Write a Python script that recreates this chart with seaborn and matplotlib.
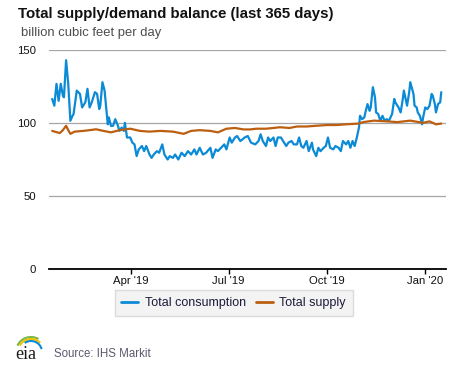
import numpy as np
import pandas as pd
import seaborn as sns
import matplotlib.pyplot as plt
import matplotlib.dates as mdates
from matplotlib.patches import Arc

# Readings taken off the chart: day offset from the first day, value in Bcf/d
START = pd.Timestamp("2019-01-17")

cons_day = [0, 2, 4, 6, 8, 10, 11, 13, 15, 17, 19, 20, 23, 26, 28, 31, 33, 35, 37, 40,
            42, 44, 45, 47, 49, 52, 53, 55, 57, 59, 61, 63, 65, 67, 68, 70, 73, 75, 77, 79,
            81, 84, 86, 88, 91, 93, 95, 98, 100, 103, 105, 108, 110, 113, 115, 118, 121, 124, 127, 130,
            133, 135, 138, 141, 144, 148, 150, 153, 155, 158, 161, 163, 166, 168, 171, 173, 176, 178, 180, 183,
            186, 190, 193, 195, 197, 200, 202, 204, 207, 209, 211, 214, 216, 219, 221, 224, 226, 229, 231, 233,
            235, 238, 240, 243, 244, 247, 249, 251, 254, 256, 258, 260, 263, 265, 268, 270, 272, 275, 277, 279,
            281, 283, 285, 287, 288, 290, 292, 293, 295, 297, 298, 300, 302, 303, 305, 307, 309, 311, 313, 315,
            318, 320, 321, 324, 326, 328, 329, 331, 332, 334, 335, 338, 339, 341, 342, 344, 346, 347, 349, 351,
            353, 355, 356, 358, 359, 361, 363, 364]
cons_val = [116.3, 111.7, 126.6, 115.0, 126.6, 118.6, 117.4, 142.7, 126.6, 101.4, 104.8, 106.0, 122.0, 119.7, 110.5, 114.0, 123.2, 110.5, 114.0, 120.9,
            119.7, 109.4, 111.7, 127.7, 122.0, 99.0, 103.7, 97.9, 98.0, 102.5, 99.0, 94.5, 96.8, 94.5, 100.0, 90.0, 90.0, 86.5, 85.3, 77.3,
            81.9, 84.2, 80.7, 84.2, 78.4, 76.1, 78.4, 80.7, 79.6, 85.3, 78.4, 75.0, 77.3, 76.1, 78.4, 75.0, 79.6, 77.3, 80.7, 78.4,
            81.9, 78.4, 83.0, 78.4, 79.6, 83.0, 76.1, 81.9, 80.7, 83.0, 85.3, 81.9, 90.0, 86.5, 90.0, 91.0, 87.6, 88.7, 90.0, 91.0,
            86.5, 85.3, 87.6, 92.2, 87.6, 84.2, 90.0, 87.6, 90.0, 84.2, 90.0, 90.0, 87.6, 84.2, 86.5, 87.6, 85.3, 85.3, 90.0, 84.2,
            83.0, 87.6, 80.7, 86.5, 81.9, 77.3, 83.0, 80.7, 83.0, 84.2, 90.0, 83.0, 81.9, 84.2, 83.0, 80.7, 87.6, 85.3, 87.6, 83.0,
            87.6, 84.2, 90.0, 96.8, 104.8, 102.5, 103.7, 107.1, 112.8, 108.2, 110.5, 124.3, 117.4, 107.1, 106.0, 101.4, 104.8, 101.4, 102.5, 101.4,
            106.0, 116.3, 114.0, 110.5, 107.1, 116.3, 122.0, 115.0, 111.7, 120.9, 127.7, 119.7, 111.7, 110.5, 107.1, 104.8, 99.0, 103.7, 110.5, 109.4,
            111.7, 119.7, 118.6, 112.8, 107.1, 112.8, 114.0, 120.9]

supply_day = [0, 7, 10, 13, 15, 17, 21, 29, 35, 41, 48, 55, 63, 73, 82, 91, 101, 113, 123, 130,
              138, 148, 155, 163, 171, 179, 185, 191, 200, 207, 213, 222, 229, 238, 247, 257, 266, 275, 287, 291,
              301, 313, 323, 335, 347, 353, 359, 364]
supply_val = [94.5, 93.0, 95.0, 98.0, 95.0, 92.5, 94.0, 94.5, 95.0, 95.6, 94.5, 93.5, 95.0, 96.0, 94.5, 94.0, 94.5, 94.0, 92.5, 94.5,
              95.0, 94.5, 93.5, 96.0, 96.5, 95.5, 95.5, 96.0, 96.0, 96.5, 97.0, 96.5, 97.5, 97.5, 98.0, 98.5, 98.5, 99.0, 99.5, 100.5,
              101.5, 101.0, 100.5, 101.5, 100.0, 101.0, 99.0, 99.5]

series_labels = ["Total consumption", "Total supply"]
series_colors = ["#0b8ad6", "#bb5e10"]
y_ticks = [0, 50, 100, 150]

cons = pd.DataFrame({"date": START + pd.to_timedelta(cons_day, unit="D"), "value": cons_val})
supply = pd.DataFrame({"date": START + pd.to_timedelta(supply_day, unit="D"), "value": supply_val})

sns.set_style("white")
plt.rcParams["font.family"] = ["Liberation Sans", "DejaVu Sans"]

fig = plt.figure(figsize=(4.77, 3.67), dpi=100)
ax = fig.add_axes([0.1027, 0.2657, 0.8323, 0.5994])

sns.lineplot(data=cons, x="date", y="value", ax=ax, color=series_colors[0], lw=1.6, label=series_labels[0])
sns.lineplot(data=supply, x="date", y="value", ax=ax, color=series_colors[1], lw=1.6, label=series_labels[1])

ax.set_xlim(pd.Timestamp("2019-01-14"), pd.Timestamp("2020-01-20 10:00"))
ax.set_ylim(0, 150)
ax.set_yticks(y_ticks)
ax.grid(axis="y", color="#a6a6a6", lw=0.9)
ax.grid(axis="x", visible=False)
for s in ["top", "right", "left"]:
    ax.spines[s].set_visible(False)
ax.spines["bottom"].set_color("black")
ax.spines["bottom"].set_linewidth(1.3)
ax.set_xlabel("")
ax.set_ylabel("")

ax.xaxis.set_major_locator(mdates.MonthLocator(bymonth=[1, 4, 7, 10]))
ax.xaxis.set_major_formatter(mdates.DateFormatter("%b '%y"))
ax.tick_params(axis="x", bottom=True, length=3.5, width=1, color="black", pad=1.5,
               labelsize=8.2, labelcolor="#111111")
ax.tick_params(axis="y", left=False, pad=6, labelsize=8.2, labelcolor="#111111")
# hide any tick that falls before the data
ax.set_xticks([t for t in ax.get_xticks() if t >= mdates.date2num(pd.Timestamp("2019-02-01"))])

leg = ax.legend(loc="center", bbox_to_anchor=(0.490, 0.1744), bbox_transform=fig.transFigure,
                ncol=2, frameon=True, fancybox=False, fontsize=9, handlelength=1.35,
                handletextpad=0.5, columnspacing=0.85, borderpad=0.55)
leg.get_frame().set_facecolor("#f0f0f0")
leg.get_frame().set_edgecolor("#d4d4d4")
leg.get_frame().set_linewidth(1)
for t in leg.get_texts():
    t.set_color("#1c1c3c")
for h in leg.get_lines():
    h.set_linewidth(2)

fig.text(0.0377, 0.950, "Total supply/demand balance (last 365 days)", fontsize=10.8,
         fontweight="bold", color="#111111", va="baseline")
fig.text(0.044, 0.902, "billion cubic feet per day", fontsize=9.4, color="#4d4d4d", va="baseline")
fig.text(0.113, 0.0264, "Source: IHS Markit", fontsize=8.3, color="#5a5a6e", va="baseline")

# small eia mark
fig.text(0.033, 0.021, "eia", fontsize=13, family=["Liberation Serif", "DejaVu Serif"],
         color="#1a1a1a", va="baseline")
for r, c, t1, t2 in [(0.15, "#7ab648", 60, 155), (0.13, "#f2c200", 45, 150), (0.11, "#0b8ad6", 15, 125)]:
    fig.add_artist(Arc((0.31, 0.15), 2 * r, 2 * r, theta1=t1, theta2=t2, color=c, lw=1.5,
                       transform=fig.dpi_scale_trans))

fig.savefig("out.png", dpi=100)
